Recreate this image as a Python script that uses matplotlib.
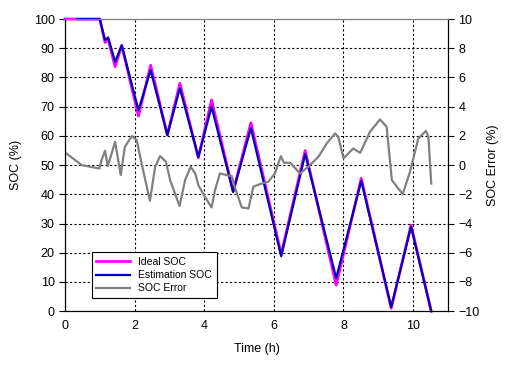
import matplotlib.pyplot as plt

plt.rcParams['font.family'] = ['Liberation Sans', 'DejaVu Sans']

# Ideal / estimated SOC (%) vs time (h)
t_ideal = [0, 1.0, 1.15, 1.24, 1.44, 1.63, 2.11, 2.46, 2.94, 3.30, 3.83, 4.21,
           4.83, 5.34, 6.21, 6.90, 7.79, 8.51, 9.37, 9.94, 10.52]
soc_ideal = [100, 100, 92, 93, 83.7, 91, 66.8, 84.2, 60.3, 78, 52.5, 72.3,
             41, 64.5, 19.5, 55, 8.9, 45.5, 1, 29.5, 0]
t_est = [0.35, 1.0, 1.15, 1.24, 1.44, 1.63, 2.11, 2.46, 2.94, 3.30, 3.83, 4.21,
         4.83, 5.34, 6.21, 6.90, 7.79, 8.51, 9.37, 9.94, 10.52]
soc_est = [100, 100, 92.8, 93.7, 85.4, 91, 68.8, 82.5, 60.3, 76.3, 52.8, 70,
           40.8, 62.7, 18.8, 53.8, 11.3, 44.6, 1.4, 28.9, 0]

# SOC error (%)
t_err = [0, 0.14, 0.48, 0.72, 0.99, 1.05, 1.15, 1.23, 1.44, 1.60, 1.72, 1.92,
         2.06, 2.20, 2.44, 2.59, 2.73, 2.90, 3.02, 3.29, 3.45, 3.61, 3.74, 3.83,
         4.02, 4.21, 4.31, 4.45, 4.64, 4.79, 4.89, 5.08, 5.27, 5.41, 5.60, 5.84,
         6.03, 6.20, 6.29, 6.47, 6.75, 6.99, 7.28, 7.52, 7.76, 7.85, 8.0, 8.28,
         8.48, 8.76, 9.05, 9.24, 9.39, 9.70, 9.91, 10.15, 10.37, 10.44, 10.52]
err = [0.87, 0.62, 0.0, -0.11, -0.23, 0.34, 0.98, -0.07, 1.6, -0.68, 1.25, 1.99,
       1.71, 0.11, -2.44, -0.11, 0.62, 0.23, -1.03, -2.8, -1.03, -0.11, -0.57, -1.37,
       -2.17, -2.9, -1.71, -0.57, -0.68, -0.75, -1.6, -2.9, -2.97, -1.48, -1.3, -1.14,
       -0.57, 0.62, 0.16, 0.16, -0.57, -0.11, 0.57, 1.49, 2.17, 1.94, 0.46, 1.14,
       0.84, 2.28, 3.13, 2.62, -1.03, -1.99, -0.46, 1.83, 2.35, 1.94, -1.26]

fig = plt.figure(figsize=(5.05, 3.74), dpi=100)
ax = fig.add_axes([0.1287, 0.168, 0.7583, 0.781])
ax2 = ax.twinx()

ax.plot(t_ideal, soc_ideal, color='#ff00ff', lw=2.0, label='Ideal SOC', clip_on=False, zorder=3)
ax.plot(t_est, soc_est, color='#0000b4', lw=1.6, label='Estimation SOC', clip_on=False, zorder=4)
ax2.plot(t_err, err, color='#808080', lw=1.6, label='SOC Error')

ax.set_xlim(0, 11)
ax.set_ylim(0, 100)
ax2.set_ylim(-10, 10)
ax.set_xticks(range(0, 11, 2))
ax.set_yticks(range(0, 101, 10))
ax2.set_yticks(range(-10, 11, 2))

ax.grid(True, color='black', linestyle=(0, (2, 2)), lw=0.8)
ax.set_axisbelow(True)

ax.tick_params(axis='x', length=0, labelsize=9, pad=6)
ax.tick_params(axis='y', direction='out', length=4, labelsize=9)
ax2.tick_params(axis='y', direction='out', length=4, labelsize=9)

ax.set_xlabel('Time (h)', fontsize=9, labelpad=8)
ax.set_ylabel('SOC (%)', fontsize=9, labelpad=8)
ax2.set_ylabel('SOC Error (%)', fontsize=9, labelpad=5)

for a in (ax, ax2):
    a.spines['top'].set_color('#808080')

# legend with all three series, placed on the twin axes so it sits on top
lines = ax.get_lines() + ax2.get_lines()
leg = ax2.legend(lines, [l.get_label() for l in lines], loc='lower left',
                 bbox_to_anchor=(0.07, 0.045), borderaxespad=0, fontsize=7.5,
                 fancybox=False, framealpha=1, edgecolor='black',
                 handlelength=3.2, borderpad=0.45, labelspacing=0.3)
leg.get_frame().set_linewidth(0.8)

fig.savefig('out.png', dpi=100)
